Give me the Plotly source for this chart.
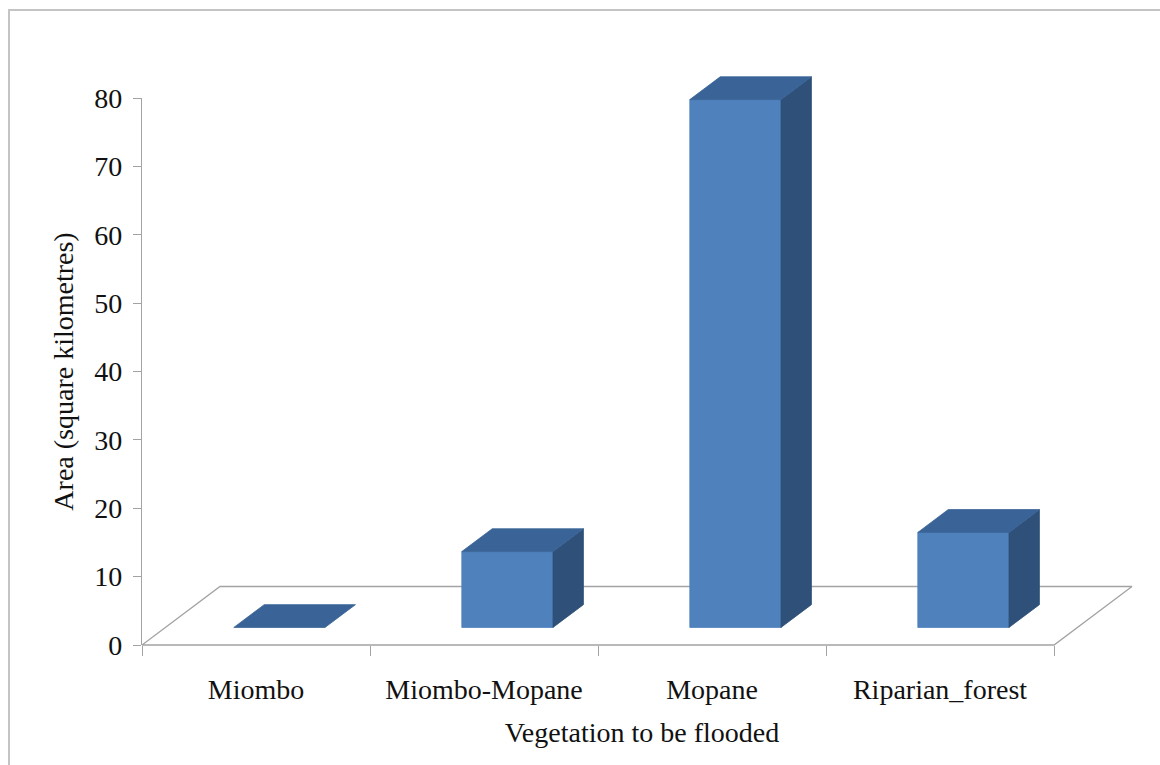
import plotly.graph_objects as go

# ---- data -------------------------------------------------------------
categories = ["Miombo", "Miombo-Mopane", "Mopane", "Riparian_forest"]
areas = [0.0, 11.1, 77.2, 13.9]          # square kilometres
y_ticks = [0, 10, 20, 30, 40, 50, 60, 70, 80]

# ---- geometry ---------------------------------------------------------
FIG_W, FIG_H = 1160, 765
M_L, M_R, M_T, M_B = 142, 18, 40, 40
PW, PH = FIG_W - M_L - M_R, FIG_H - M_T - M_B
CAT_PX = 228            # pixel width of one category slot
UNIT_PX = 6.8375        # pixels per value unit
ZERO_PX = 645           # pixel row of value 0
VMAX = 80

# oblique depth of the chart floor, expressed in axis units
FLOOR_DX = 78 / CAT_PX
FLOOR_DY = 58.5 / UNIT_PX
BAR_FRONT, BAR_BACK = 0.30, 0.69     # slab position inside the floor depth
BAR_W = 0.40                         # bar width as a fraction of a slot

FRONT_C = "#4F81BD"
TOP_C = "#3A6497"
SIDE_C = "#2E5079"
AXIS_C = "#A3A3A3"
FONT = "Liberation Serif, Times New Roman, serif"

x_lo = -0.5
x_hi = x_lo + PW / CAT_PX
bottom_px = FIG_H - M_B
y_lo = -(bottom_px - ZERO_PX) / UNIT_PX
y_hi = (ZERO_PX - M_T) / UNIT_PX
y2_dom = [(bottom_px - ZERO_PX) / PH, (bottom_px - (ZERO_PX - VMAX * UNIT_PX)) / PH]

fig = go.Figure()


def face(xs, ys, color):
    fig.add_trace(go.Scatter(
        x=xs + [xs[0]], y=ys + [ys[0]], mode="lines", fill="toself",
        fillcolor=color, line=dict(color=color, width=0.8),
        hoverinfo="skip", showlegend=False))


# floor of the 3-D plot area
n = len(categories)
fx0, fx1 = -0.5, n - 0.5
fig.add_trace(go.Scatter(
    x=[fx0, fx1, fx1 + FLOOR_DX, fx0 + FLOOR_DX, fx0],
    y=[0, 0, FLOOR_DY, FLOOR_DY, 0],
    mode="lines", fill="toself", fillcolor="white",
    line=dict(color=AXIS_C, width=1.3), hoverinfo="skip", showlegend=False))

# 3-D columns: front, side and top faces
ddx = (BAR_BACK - BAR_FRONT) * FLOOR_DX
ddy = (BAR_BACK - BAR_FRONT) * FLOOR_DY
for i, v in enumerate(areas):
    cx = i + BAR_FRONT * FLOOR_DX
    base = BAR_FRONT * FLOOR_DY
    xl, xr = cx - BAR_W / 2, cx + BAR_W / 2
    if v > 0:
        face([xl, xr, xr, xl], [base, base, base + v, base + v], FRONT_C)
        face([xr, xr + ddx, xr + ddx, xr],
             [base, base + ddy, base + ddy + v, base + v], SIDE_C)
    face([xl, xr, xr + ddx, xl + ddx],
         [base + v, base + v, base + v + ddy, base + v + ddy], TOP_C)

# empty trace so the value axis gets drawn
fig.add_trace(go.Scatter(x=[None], y=[None], xaxis="x", yaxis="y2",
                         showlegend=False, hoverinfo="skip"))

fig.update_layout(
    width=FIG_W, height=FIG_H,
    margin=dict(l=M_L, r=M_R, t=M_T, b=M_B),
    paper_bgcolor="white", plot_bgcolor="rgba(0,0,0,0)",
    showlegend=False,
    font=dict(family=FONT, size=28, color="#111111"),
    xaxis=dict(
        domain=[0, 1], range=[x_lo, x_hi], anchor="y2",
        showline=False, showgrid=False, zeroline=False, automargin=False,
        tickmode="array", tickvals=list(range(n)), ticktext=categories,
        ticks="", ticklabelstandoff=25,
        minor=dict(tickmode="array",
                   tickvals=[k - 0.5 for k in range(n + 1)],
                   ticks="outside", ticklen=10, tickcolor=AXIS_C, tickwidth=1.3),
        title=dict(text="Vegetation to be flooded", standoff=18,
                   font=dict(family=FONT, size=28)),
    ),
    yaxis=dict(domain=[0, 1], range=[y_lo, y_hi], visible=False),
    yaxis2=dict(
        domain=y2_dom, range=[0, VMAX], anchor="x",
        showline=True, linecolor=AXIS_C, linewidth=1.3,
        showgrid=False, zeroline=False, automargin=False,
        tickmode="array", tickvals=y_ticks,
        ticks="outside", ticklen=8, tickcolor=AXIS_C, tickwidth=1.3,
        ticklabelstandoff=5,
        title=dict(text="Area (square kilometres)", standoff=12,
                   font=dict(family=FONT, size=28)),
    ),
    shapes=[dict(type="rect", xref="paper", yref="paper",
                 x0=(9 - M_L) / PW, x1=(FIG_W + 20 - M_L) / PW,
                 y0=(bottom_px - FIG_H - 20) / PH, y1=(bottom_px - 10) / PH,
                 line=dict(color="#C4C4C4", width=2), layer="below")],
)

fig.write_html("out.html")
